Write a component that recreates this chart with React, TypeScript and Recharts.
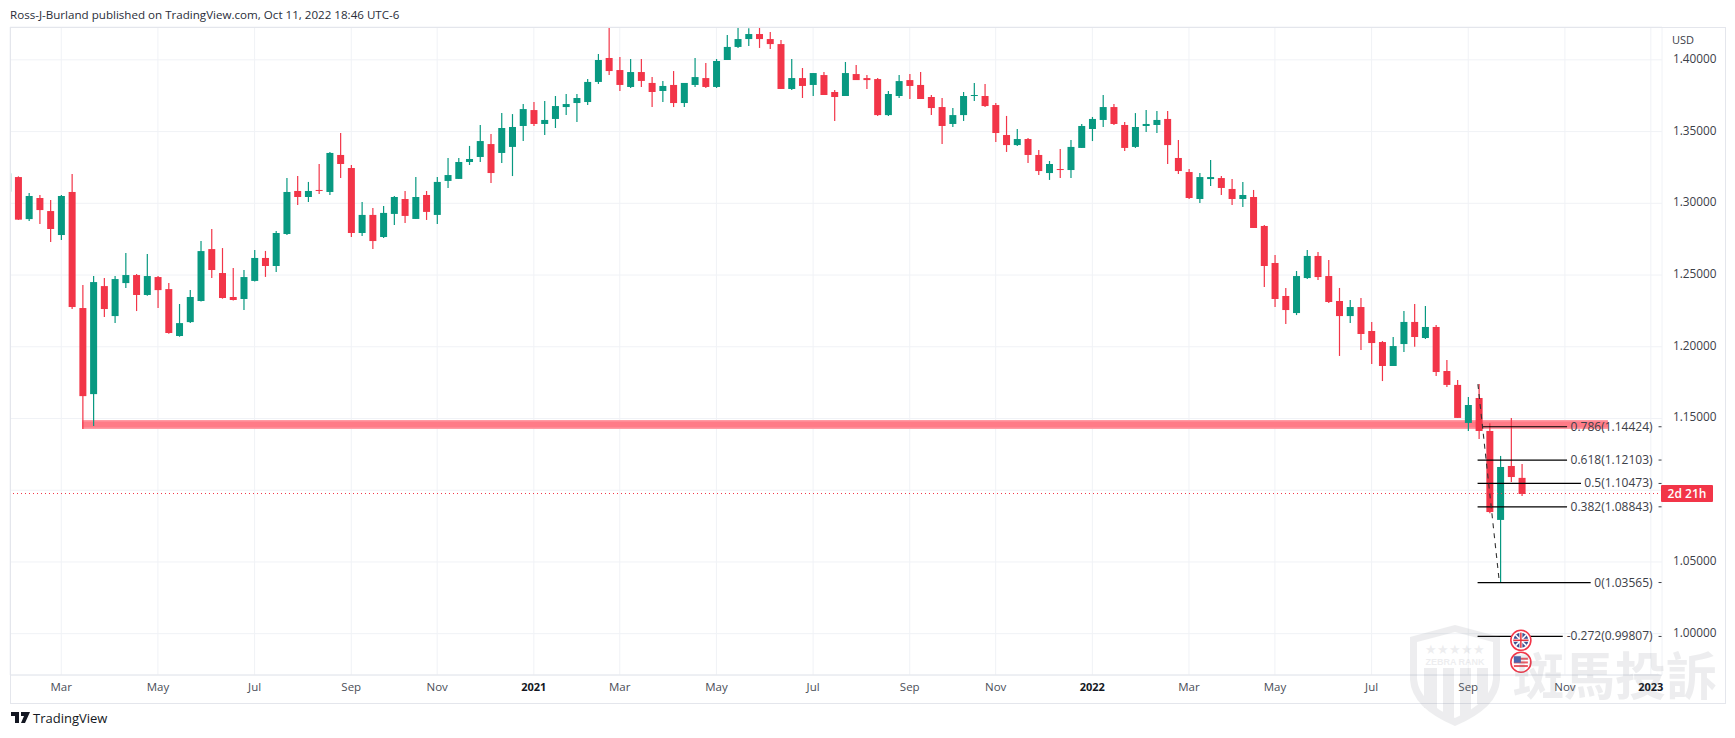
import React from "react";
import {
  ComposedChart, Bar, XAxis, YAxis, CartesianGrid,
  ReferenceLine, ReferenceArea, ReferenceDot,
} from "recharts";

const FONT = "'Open Sans', 'Noto Sans', sans-serif";
const RED = "#f23548";
const GREEN = "#089981";
const TEXT = "#3c4048";

const opens = [
  1.3081,
  1.3183,1.2890,1.3037,1.2946,1.2779,1.3079,1.2270,1.1670,1.2423,1.2214,
  1.2444,1.2500,1.2361,1.2486,1.2402,1.2075,1.2172,1.2319,1.2681,1.2514,
  1.2347,1.2333,1.2459,1.2619,1.2563,1.2786,1.3086,1.3044,1.3093,1.3079,
  1.3337,1.3246,1.2793,1.2919,1.2765,1.2926,1.3030,1.2891,1.3058,1.2919,
  1.3156,1.3170,1.3288,1.3323,1.3413,1.3351,1.3393,1.3539,1.3650,1.3553,
  1.3588,1.3671,1.3699,1.3706,1.3846,1.4013,1.3929,1.3811,1.3915,1.3839,
  1.3783,1.3825,1.3699,1.3825,1.3873,1.3811,1.3999,1.4090,1.4145,1.4180,
  1.4145,1.4110,1.3797,1.3873,1.3825,1.3894,1.3776,1.3748,1.3901,1.3873,
  1.3866,1.3615,1.3748,1.3859,1.3825,1.3741,1.3671,1.3553,1.3615,1.3748,
  1.3748,1.3685,1.3476,1.3406,1.3448,1.3337,1.3211,1.3239,1.3232,1.3386,
  1.3518,1.3581,1.3671,1.3546,1.3393,1.3539,1.3546,1.3588,1.3316,1.3218,
  1.3030,1.3169,1.3176,1.3100,1.3030,1.3044,1.2842,1.2584,1.2354,1.2235,
  1.2479,1.2633,1.2493,1.2319,1.2214,1.2277,1.2110,1.2033,1.1866,1.2019,
  1.2173,1.2061,1.2138,1.1831,1.1734,1.1469,1.1643,1.1413,1.0793,1.1169,
  1.1086,
];
const highs = [
  1.3209,
  1.3188,1.3072,1.3058,1.3023,1.3058,1.3204,1.2430,1.2493,1.2479,1.2493,
  1.2653,1.2507,1.2646,1.2493,1.2444,1.2298,1.2395,1.2737,1.2821,1.2688,
  1.2549,1.2535,1.2675,1.2668,1.2807,1.3176,1.3190,1.3149,1.3274,1.3358,
  1.3490,1.3267,1.3009,1.2967,1.2981,1.3051,1.3086,1.3183,1.3086,1.3183,
  1.3316,1.3316,1.3400,1.3546,1.3483,1.3629,1.3622,1.3692,1.3706,1.3713,
  1.3748,1.3762,1.3762,1.3866,1.4041,1.4227,1.4020,1.4006,1.4006,1.3880,
  1.3853,1.3922,1.3839,1.4013,1.3978,1.4006,1.4173,1.4227,1.4220,1.4227,
  1.4194,1.4138,1.4006,1.3943,1.3908,1.3915,1.3790,1.3985,1.3964,1.3894,
  1.3873,1.3783,1.3894,1.3901,1.3915,1.3755,1.3734,1.3664,1.3776,1.3839,
  1.3832,1.3699,1.3609,1.3518,1.3455,1.3372,1.3295,1.3379,1.3441,1.3553,
  1.3602,1.3755,1.3692,1.3567,1.3629,1.3650,1.3643,1.3643,1.3441,1.3239,
  1.3211,1.3302,1.3190,1.3169,1.3148,1.3093,1.2849,1.2640,1.2410,1.2528,
  1.2675,1.2661,1.2605,1.2410,1.2326,1.2340,1.2173,1.2040,1.2068,1.2249,
  1.2298,1.2284,1.2152,1.1908,1.1768,1.1650,1.1740,1.1466,1.1239,1.1504,
  1.1183,
];
const lows = [
  1.3081,
  1.2884,1.2877,1.2856,1.2730,1.2744,1.2263,1.1427,1.1448,1.2207,1.2165,
  1.2409,1.2249,1.2355,1.2270,1.2090,1.2070,1.2165,1.2315,1.2479,1.2335,
  1.2322,1.2256,1.2455,1.2487,1.2521,1.2779,1.2988,1.3009,1.3065,1.3058,
  1.3176,1.2765,1.2772,1.2682,1.2758,1.2849,1.2863,1.2891,1.2884,1.2856,
  1.3107,1.3170,1.3267,1.3288,1.3142,1.3281,1.3190,1.3434,1.3539,1.3476,
  1.3525,1.3616,1.3567,1.3685,1.3832,1.3894,1.3783,1.3804,1.3811,1.3671,
  1.3706,1.3671,1.3671,1.3811,1.3804,1.3804,1.3999,1.4083,1.4096,1.4083,
  1.4076,1.3797,1.3790,1.3734,1.3748,1.3755,1.3574,1.3748,1.3859,1.3797,
  1.3609,1.3609,1.3734,1.3727,1.3727,1.3615,1.3413,1.3532,1.3574,1.3713,
  1.3671,1.3427,1.3358,1.3400,1.3281,1.3197,1.3163,1.3176,1.3176,1.3386,
  1.3434,1.3532,1.3546,1.3365,1.3386,1.3497,1.3490,1.3274,1.3204,1.3030,
  1.3002,1.3121,1.3058,1.2988,1.2974,1.2828,1.2417,1.2277,1.2159,1.2221,
  1.2472,1.2465,1.2305,1.1936,1.2166,1.1978,1.1880,1.1761,1.1866,1.1964,
  1.2000,1.2054,1.1796,1.1720,1.1504,1.1413,1.1357,1.0839,1.0358,1.1057,
  1.0960,
];
const closes = [
  1.3209,
  1.2886,1.3051,1.2953,1.2821,1.3051,1.2277,1.1656,1.2451,1.2263,1.2472,
  1.2500,1.2361,1.2493,1.2395,1.2096,1.2165,1.2347,1.2667,1.2535,1.2340,
  1.2326,1.2486,1.2619,1.2563,1.2793,1.3079,1.3044,1.3086,1.3086,1.3351,
  1.3274,1.2793,1.2919,1.2737,1.2933,1.3044,1.2912,1.3044,1.2940,1.3149,
  1.3197,1.3288,1.3309,1.3434,1.3211,1.3525,1.3532,1.3657,1.3553,1.3581,
  1.3678,1.3692,1.3734,1.3846,1.3999,1.3922,1.3825,1.3915,1.3853,1.3776,
  1.3818,1.3699,1.3839,1.3880,1.3811,1.3992,1.4090,1.4145,1.4180,1.4145,
  1.4110,1.3797,1.3873,1.3818,1.3908,1.3755,1.3741,1.3908,1.3859,1.3859,
  1.3615,1.3762,1.3852,1.3818,1.3727,1.3664,1.3539,1.3615,1.3748,1.3755,
  1.3678,1.3490,1.3406,1.3448,1.3337,1.3225,1.3274,1.3237,1.3393,1.3539,
  1.3588,1.3671,1.3553,1.3386,1.3532,1.3553,1.3581,1.3406,1.3225,1.3037,
  1.3183,1.3183,1.3107,1.3030,1.3058,1.2828,1.2563,1.2333,1.2256,1.2493,
  1.2633,1.2486,1.2312,1.2214,1.2277,1.2089,1.2026,1.1866,1.2005,1.2173,
  1.2068,1.2138,1.1824,1.1734,1.1504,1.1594,1.1413,1.0848,1.1162,1.1092,
  1.0974,
];

const firstWeek = -1;
const candles = opens.map((open, k) => ({
  week: firstWeek + k,
  open,
  high: highs[k],
  low: lows[k],
  close: closes[k],
}));

const monthTicks = [4, 13, 22, 31, 39, 48, 56, 65, 74, 83, 91, 100, 109, 117, 126, 135, 144, 152];
const monthLabels = ["Mar", "May", "Jul", "Sep", "Nov", "2021", "Mar", "May", "Jul", "Sep", "Nov", "2022", "Mar", "May", "Jul", "Sep", "Nov", "2023"];
const priceTicks = [1.0, 1.05, 1.1, 1.15, 1.2, 1.25, 1.3, 1.35, 1.4];
const HIDDEN_PRICE_LABEL = 1.1;

const WEEK_MIN = -0.773;
const WEEK_MAX = 153.04;
const PRICE_MIN = 0.9712;
const PRICE_MAX = 1.4229;

const fibLabels = ["0.786(1.14424)", "0.618(1.12103)", "0.5(1.10473)", "0.382(1.08843)", "0(1.03565)", "-0.272(0.99807)"];
const fibPrices = [1.14424, 1.12103, 1.10473, 1.08843, 1.03565, 0.99807];
const fibStarts = [136.3, 135.87, 135.87, 135.87, 135.87, 135.87];
const fibEnds = [144.2, 144.2, 145.5, 144.2, 146.4, 143.8];
const FIB_LABEL_WEEK = 152.16;

const LAST_PRICE = 1.0977;
const TREND = { fromWeek: 135.9, fromPrice: 1.174, toWeek: 137.9, toPrice: 1.0356 };
const BAND = { fromWeek: 5.95, toWeek: 148.0, outerHigh: 1.149, outerLow: 1.1427, innerHigh: 1.1479, innerLow: 1.1437 };
const EVENT_WEEK = 139.9;
const eventPrices = [0.9954, 0.9801];

const Candle = (props: any) => {
  const { x, y, width, height, payload } = props;
  if (!payload || height == null) return null;
  const up = payload.close >= payload.open;
  const color = up ? GREEN : RED;
  const span = payload.high - payload.low || 1;
  const perUnit = Math.abs(height) / span;
  const top = y + (payload.high - Math.max(payload.open, payload.close)) * perUnit;
  const bodyH = Math.max(1, Math.abs(payload.open - payload.close) * perUnit);
  const cx = x + width / 2;
  return (
    <g>
      <line x1={cx} x2={cx} y1={y} y2={y + Math.abs(height)} stroke={color} strokeWidth={1.2} />
      <rect x={x} y={top} width={width} height={bodyH} fill={color} />
    </g>
  );
};

const MonthTick = (props: any) => {
  const { x, y, index } = props;
  const label = monthLabels[index];
  const isYear = label.length === 4;
  return (
    <text x={x} y={y + 8} textAnchor="middle" fontFamily={FONT} fontSize={isYear ? 11 : 11.5}
      fontWeight={isYear ? 700 : 400} fill={isYear ? "#131722" : "#4a4e57"}>
      {label}
    </text>
  );
};

const PriceTick = (props: any) => {
  const { x, y, payload } = props;
  if (Math.abs(payload.value - HIDDEN_PRICE_LABEL) < 1e-6) return null;
  return (
    <text x={x} y={y + 3} fontFamily={FONT} fontSize={11.8} fill={TEXT}>
      {Number(payload.value).toFixed(5)}
    </text>
  );
};

const FibLabel = (label: string) => (props: any) => (
  <g>
    <text x={props.cx} y={props.cy + 4} textAnchor="end" fontFamily={FONT} fontSize={12} fill={TEXT}>
      {label}
    </text>
    <line x1={props.cx + 6} x2={props.cx + 9} y1={props.cy} y2={props.cy} stroke={TEXT} strokeWidth={1} />
  </g>
);

const UkFlag = (props: any) => {
  const { cx, cy } = props;
  return (
    <g>
      <circle cx={cx} cy={cy} r={10} fill="#fff" stroke="#f23548" strokeWidth={1.6} />
      <circle cx={cx} cy={cy} r={7.5} fill="#3d4f8f" />
      <line x1={cx - 5.3} y1={cy - 5.3} x2={cx + 5.3} y2={cy + 5.3} stroke="#fff" strokeWidth={1.6} />
      <line x1={cx - 5.3} y1={cy + 5.3} x2={cx + 5.3} y2={cy - 5.3} stroke="#fff" strokeWidth={1.6} />
      <line x1={cx - 7.5} y1={cy} x2={cx + 7.5} y2={cy} stroke="#fff" strokeWidth={3} />
      <line x1={cx} y1={cy - 7.5} x2={cx} y2={cy + 7.5} stroke="#fff" strokeWidth={3} />
      <line x1={cx - 7.5} y1={cy} x2={cx + 7.5} y2={cy} stroke="#e5343f" strokeWidth={1.5} />
      <line x1={cx} y1={cy - 7.5} x2={cx} y2={cy + 7.5} stroke="#e5343f" strokeWidth={1.5} />
    </g>
  );
};

const UsFlag = (props: any) => {
  const { cx, cy } = props;
  return (
    <g>
      <circle cx={cx} cy={cy} r={10} fill="#fff" stroke="#f23548" strokeWidth={1.6} />
      <rect x={cx - 7} y={cy - 4.5} width={14} height={2} fill="#ec5a63" />
      <rect x={cx - 7} y={cy - 0.8} width={14} height={2} fill="#ec5a63" />
      <rect x={cx - 7} y={cy + 2.8} width={14} height={2} fill="#ec5a63" />
      <rect x={cx - 7} y={cy - 6} width={7} height={6.5} fill="#4a63ad" />
    </g>
  );
};

const Overlay = () => (
  <svg width={1735} height={738} style={{ position: "absolute", left: 0, top: 0, pointerEvents: "none" }}>
    <rect x={10.5} y={27.5} width={1715} height={676} fill="none" stroke="#e4e6ec" />
    <text x={10} y={19} fontFamily={FONT} fontSize={11.6} fill="#2a2e39">
      Ross-J-Burland published on TradingView.com, Oct 11, 2022 18:46 UTC-6
    </text>
    <text x={1672} y={44} fontFamily={FONT} fontSize={11} fill={TEXT}>USD</text>
    <rect x={1661} y={485} width={52} height={17} fill={RED} rx={1} />
    <text x={1687} y={498} textAnchor="middle" fontFamily={FONT} fontSize={12} fontWeight={600} fill="#fff">2d 21h</text>

    <path d="M11 712 h8 v11 h-4 v-7 h-4 z M21 712 h9 l-5 11 h-4 l3 -7 h-3 z" fill="#131722" />
    <text x={33} y={723} fontFamily={FONT} fontSize={13} fill="#131722">TradingView</text>

    <g opacity={0.12} fill="#70757f">
      <path d="M1455 625 L1500 637 L1500 680 Q1498 708 1455 726 Q1412 708 1410 680 L1410 637 Z M1455 632 L1417 642 L1417 679 Q1419 702 1455 718 Q1491 702 1493 679 L1493 642 Z" fillRule="evenodd" />
      <rect x={1424} y={668} width={13} height={40} />
      <rect x={1443} y={668} width={11} height={50} />
      <rect x={1460} y={668} width={11} height={50} />
      <rect x={1477} y={668} width={11} height={36} />
      <text x={1455} y={665} textAnchor="middle" fontFamily="'Liberation Sans', sans-serif" fontWeight={700} fontSize={9}>ZEBRA RANK</text>
      <text x={1455} y={654} textAnchor="middle" fontFamily="'Liberation Sans', sans-serif" fontSize={13}>★★★★★</text>
      <text x={1513} y={695} fontFamily="'Noto Sans CJK TC', sans-serif" fontWeight={700} fontSize={51}>斑馬投訴</text>
    </g>
  </svg>
);

export default function App() {
  return (
    <div style={{ position: "absolute", left: 0, top: 0, width: 1735, height: 738, background: "#fff" }}>
      <ComposedChart
        width={1735}
        height={738}
        data={candles}
        margin={{ top: 27, right: 10, bottom: 35, left: 10 }}
      >
        <CartesianGrid stroke="#f0f2f6" strokeWidth={1} />
        <XAxis
          dataKey="week"
          type="number"
          domain={[WEEK_MIN, WEEK_MAX]}
          allowDataOverflow
          ticks={monthTicks}
          interval={0}
          height={28}
          tick={<MonthTick />}
          tickLine={false}
          axisLine={{ stroke: "#e4e6ec" }}
        />
        <YAxis
          orientation="right"
          type="number"
          domain={[PRICE_MIN, PRICE_MAX]}
          allowDataOverflow
          ticks={priceTicks}
          interval={0}
          width={63}
          tick={<PriceTick />}
          tickMargin={5}
          tickLine={false}
          axisLine={false}
        />
        <ReferenceLine y={LAST_PRICE} stroke={RED} strokeDasharray="1 3" strokeWidth={1} />
        <ReferenceArea x1={BAND.fromWeek} x2={BAND.toWeek} y1={BAND.outerLow} y2={BAND.outerHigh} fill="#ff9aa3" fillOpacity={1} stroke="none" />
        <ReferenceArea x1={BAND.fromWeek} x2={BAND.toWeek} y1={BAND.innerLow} y2={BAND.innerHigh} fill="#ff7b87" fillOpacity={1} stroke="none" />
        {fibPrices.map((price, k) => (
          <ReferenceLine
            key={fibLabels[k]}
            segment={[{ x: fibStarts[k], y: price }, { x: fibEnds[k], y: price }]}
            stroke="#000"
            strokeWidth={1.2}
          />
        ))}
        <Bar
          dataKey={(d: any) => [d.low, d.high]}
          barSize={7}
          shape={<Candle />}
          isAnimationActive={false}
        />
        <ReferenceLine
          segment={[{ x: TREND.fromWeek, y: TREND.fromPrice }, { x: TREND.toWeek, y: TREND.toPrice }]}
          stroke="#333"
          strokeDasharray="5 5"
          strokeWidth={1.1}
        />
        {fibPrices.map((price, k) => (
          <ReferenceDot key={"lbl" + k} x={FIB_LABEL_WEEK} y={price} r={0} shape={FibLabel(fibLabels[k])} />
        ))}
        <ReferenceDot x={EVENT_WEEK} y={eventPrices[0]} shape={<UkFlag />} />
        <ReferenceDot x={EVENT_WEEK} y={eventPrices[1]} shape={<UsFlag />} />
      </ComposedChart>
      <Overlay />
    </div>
  );
}
